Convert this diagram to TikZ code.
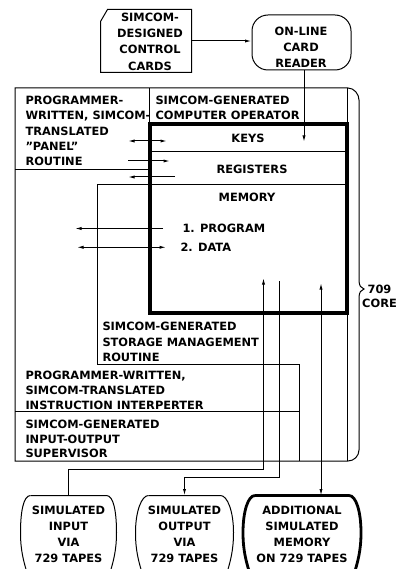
\documentclass[tikz,border=0pt]{standalone}
\usepackage{fontspec}
\setmainfont{DejaVu Sans}
\usetikzlibrary{arrows.meta,calc}
\newcommand{\tapeshape}[4]{%
  \draw[#4] ($(#1.north)+(-#2,0)$) -- ($(#1.north)+(#2,0)$)
  .. controls ($(#1.north)+(#2+7,0)$) and ($(#1.north)+(#3,16)$) .. ($(#1.north)+(#3,37)$)
  .. controls ($(#1.north)+(#3,55)$) and ($(#1.north)+(#3-3,66)$) .. ($(#1.north)+(#3-8,82)$);
  \draw[#4] ($(#1.north)+(-#2,0)$)
  .. controls ($(#1.north)+(-#2-7,0)$) and ($(#1.north)+(-#3,16)$) .. ($(#1.north)+(-#3,37)$)
  .. controls ($(#1.north)+(-#3,55)$) and ($(#1.north)+(-#3+3,66)$) .. ($(#1.north)+(-#3+8,82)$);
}
\begin{document}
\begin{tikzpicture}[x=1pt,y=-1pt,line width=1pt,
  >={Latex[length=6.5pt,width=3.2pt]},
  lbl/.style={font=\bfseries\fontsize{11.4}{#1}\selectfont, inner sep=0pt, align=left},
  lbl/.default=15.2,
  tape/.style={lbl=15.8, align=center, minimum height=76.4pt},
  thickline/.style={line width=4pt}]
\useasboundingbox (0,0) rectangle (401,569);
\clip (0,0) rectangle (401,569);

% control cards
\node[minimum width=90pt, minimum height=62pt, inner sep=0pt] (cards) at (146,41) {};
\draw ($(cards.north west)+(0,12)$) -- ($(cards.north west)+(7,0)$) -- (cards.north east) -- (cards.south east) -- (cards.south west) -- cycle;
\node[lbl=16.3, align=center] (cardstext) at (150,41.5) {SIMCOM-\\DESIGNED\\CONTROL\\CARDS};

% card reader
\node[draw, rounded corners=16pt, minimum width=99pt, minimum height=55pt] (reader) at (301.5,42.5) {};
\node[lbl=16, align=center] (readertext) at (301,47) {ON-LINE\\CARD\\READER};
\draw[->] (cards.east) -- (cards.east -| reader.west);

% outer 709 core frame with brace
\draw (15,461) -- (15,88) -- (348,88) .. controls (354,88) and (359,94) .. (359,100)
  -- (359,280) .. controls (359,286) and (361,288) .. (364,289)
  .. controls (361,290) and (359,292) .. (359,298)
  -- (359,450) .. controls (359,456) and (354,461) .. (348,461) -- cycle;
\draw (347.5,88) -- (347.5,461);

% panel routine cell and operator cell
\draw (15,170) -- (149.5,170);
\draw (149.5,88) -- (149.5,124.5);

% storage management region
\draw (97,364) -- (97,185) -- (347,185);
\draw (97,364) -- (299,364) -- (299,461);
\draw (15,411) -- (299,411);

% computer box
\draw[thickline] (149.5,124.5) rectangle (347,312.5);
\draw (149.5,152) -- (347,152);

% texts
\node[lbl, anchor=north west] (panel) at (25,95.8) {PROGRAMMER-\\WRITTEN, SIMCOM-\\TRANSLATED\\"PANEL"\\ROUTINE};
\node[lbl=15, anchor=north west] (operator) at (155,95.8) {SIMCOM-GENERATED\\COMPUTER OPERATOR};
\node[lbl] (keys) at (248,138.3) {KEYS};
\node[lbl] (registers) at (252,169.7) {REGISTERS};
\node[lbl] (memory) at (247,197.5) {MEMORY};
\node[lbl, anchor=west] (program) at (182,228.5) {1. PROGRAM};
\node[lbl, anchor=west] (data) at (180,247.3) {2. DATA};
\node[lbl=15.5, anchor=north west] (storage) at (102,321.6) {SIMCOM-GENERATED\\STORAGE MANAGEMENT\\ROUTINE};
\node[lbl=14.75, anchor=north west] (interp) at (25,370.8) {PROGRAMMER-WRITTEN,\\SIMCOM-TRANSLATED\\INSTRUCTION INTERPERTER};
\node[lbl=14.7, anchor=north west] (iosup) at (25,419.5) {SIMCOM-GENERATED\\INPUT-OUTPUT\\SUPERVISOR};
\node[lbl=14.5, align=center, anchor=north] (core) at (379.5,284.4) {709\\CORE};

% key arrow from reader
\coordinate (keyin) at (304,142);
\draw[->] (reader.south -| keyin) -- (keyin);

% panel arrows
\coordinate (pa1) at (128,141); \coordinate (pb1) at (167,141);
\coordinate (pa2) at (128,161); \coordinate (pb2) at (170,161);
\coordinate (pa3) at (175,177); \coordinate (pb3) at (128,177);
\draw[<->] (pa1) -- (pb1);
\draw[->] (pa2) -- (pb2);
\draw[->] (pa3) -- (pb3);

% program / data arrows
\coordinate (pr1) at (163,228.5); \coordinate (pr2) at (75,228.5);
\coordinate (da1) at (77,247.3); \coordinate (da2) at (166,247.3);
\draw[->] (pr1) -- (pr2);
\draw[<->] (da1) -- (da2);

% tapes
\node[tape] (tin) at (68.5,534.2) {SIMULATED\\INPUT\\VIA\\729 TAPES};
\node[tape] (tout) at (184.5,534.2) {SIMULATED\\OUTPUT\\VIA\\729 TAPES};
\node[tape] (tmem) at (302,534.2) {ADDITIONAL\\SIMULATED\\MEMORY\\ON 729 TAPES};
\tapeshape{tin}{38}{48}{}
\tapeshape{tout}{36}{49}{}
\tapeshape{tmem}{47}{59}{line width=2.8pt}

% tape connectors
\coordinate (memin) at (263.5,278);
\coordinate (memout) at (279,281);
\coordinate (memx) at (321,283);
\draw[->] (tin.north) -- ++(0,-26) -| (memin);
\draw[->] (memout) -- (279,477) -| (tout.north);
\draw[<->] (memx) -- (memx |- tmem.north);
\end{tikzpicture}
\end{document}
